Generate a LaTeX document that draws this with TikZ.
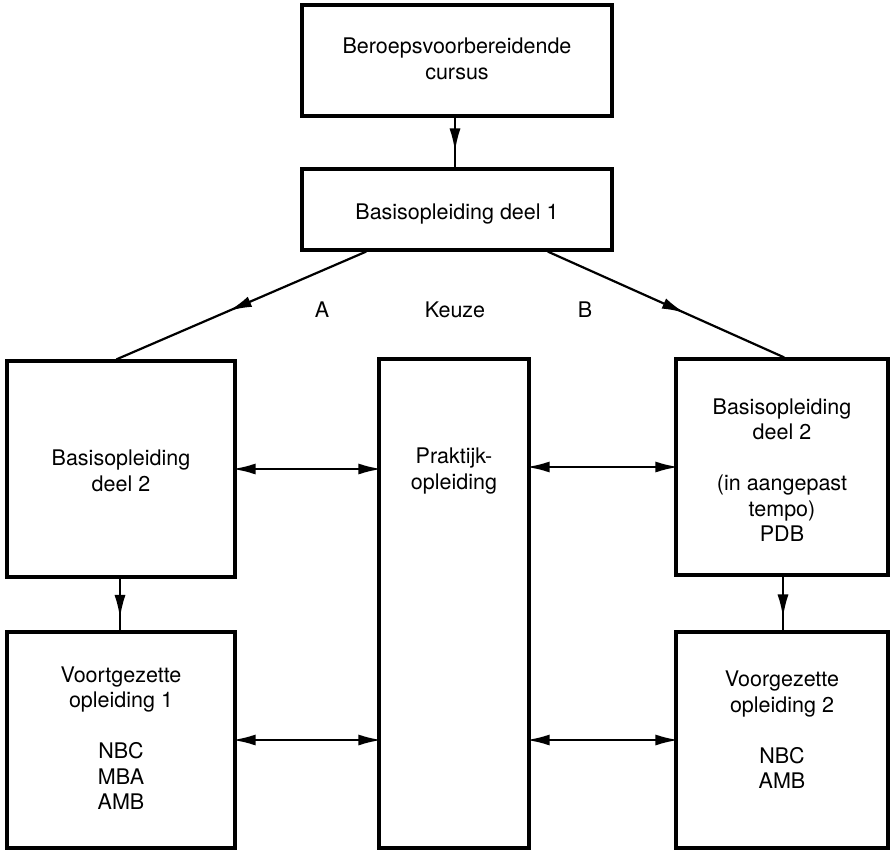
\documentclass[tikz,border=0pt]{standalone}
\usepackage{fontspec}
\setmainfont{TeX Gyre Heros}
\usetikzlibrary{arrows.meta,decorations.markings,calc}
\begin{document}
\begin{tikzpicture}[x=1pt,y=-1pt,
  box/.style={draw,line width=3.2pt,inner sep=0pt,minimum width=#1},
  txt/.style={align=center,inner sep=0pt,font=\fontsize{21.5}{25.5}\selectfont},
  conn/.style={line width=2.2pt},
  midarrow/.style={conn,postaction={decorate},decoration={markings,mark=at position #1 with {\arrow{Latex[length=23pt,width=11pt]}}}},
  dbl/.style={conn,{Latex[length=23pt,width=11pt]}-{Latex[length=23pt,width=11pt]},shorten <=-4pt,shorten >=-4pt}]
\useasboundingbox (0,0) rectangle (891,850);
% boxes
\node[box=310pt,minimum height=111pt] (top) at (457,60.5) {};
\node[box=310pt,minimum height=81pt] (b1) at (457,209.5) {};
\node[box=228pt,minimum height=216pt] (L2) at (121,469) {};
\node[box=150pt,minimum height=489pt] (M) at (454,603.5) {};
\node[box=212pt,minimum height=216pt] (R2) at (782,467) {};
\node[box=228pt,minimum height=216pt] (L3) at (121,740) {};
\node[box=212pt,minimum height=216pt] (R3) at (782,740) {};
% texts
\node[txt] (topt) at (457,59) {Beroepsvoorbereidende\\cursus};
\node[txt] (b1t) at (457,214) {Basisopleiding deel 1};
\node[txt] (L2t) at (121,471) {Basisopleiding\\deel 2};
\node[txt] (Mt) at (454,471) {Praktijk-\\opleiding};
\node[txt] (R2t) at (782,470) {Basisopleiding\\deel 2\\[25.5pt](in aangepast\\tempo)\\PDB};
\node[txt] (L3t) at (121,738) {Voortgezette\\opleiding 1\\[25.5pt]NBC\\MBA\\AMB};
\node[txt] (R3t) at (782,730) {Voorgezette\\opleiding 2\\[25.5pt]NBC\\AMB};
\node[txt] (A) at (322,310) {A};
\node[txt] (K) at (455,310) {Keuze};
\node[txt] (B) at (585,310) {B};
% connectors
\draw[midarrow=0.68] (top.south -| 455,0) -- (b1.north -| 455,0);
\coordinate (a0) at ($(b1.south west)!0.21!(b1.south east)$);
\coordinate (a1) at ($(L2.north west)!0.48!(L2.north east)$);
\coordinate (b0) at ($(b1.south west)!0.79!(b1.south east)$);
\coordinate (b1e) at ($(R2.north west)!0.51!(R2.north east)$);
\draw[midarrow=0.55] (a0) -- (a1);
\draw[midarrow=0.58] (b0) -- (b1e);
\draw[midarrow=0.76] (L2.south -| 120,0) -- (L3.north -| 120,0);
\draw[midarrow=0.76] (R2.south -| 783,0) -- (R3.north -| 783,0);
\draw[dbl] (L2.east) -- (L2.east -| M.west);
\draw[dbl] (R2.west -| M.east) -- (R2.west);
\draw[dbl] (L3.east) -- (L3.east -| M.west);
\draw[dbl] (R3.west -| M.east) -- (R3.west);
\end{tikzpicture}
\end{document}
